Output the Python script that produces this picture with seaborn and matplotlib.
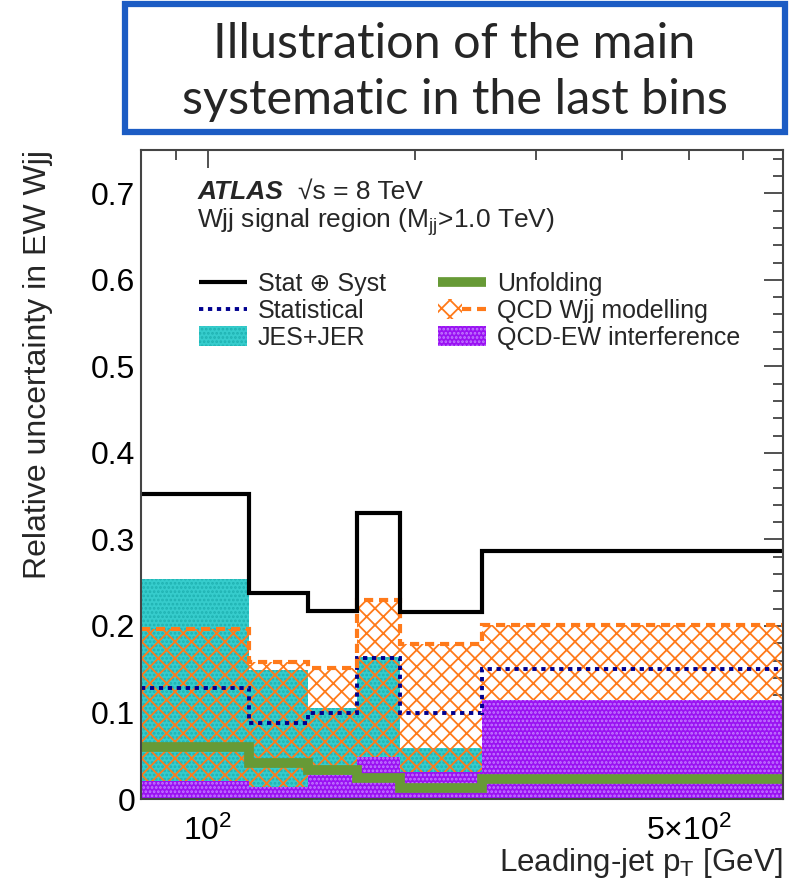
import numpy as np
import pandas as pd
import matplotlib
matplotlib.use("Agg")
import matplotlib.pyplot as plt
import seaborn as sns
from matplotlib.patches import Patch, Rectangle
from matplotlib.lines import Line2D
from matplotlib.legend_handler import HandlerTuple
from matplotlib.ticker import FixedLocator, MultipleLocator, FuncFormatter

# ---- binning and per-bin relative uncertainties ----
bin_edges = [80, 115, 140, 165, 190, 250, 685]
stat_syst = [0.352, 0.238, 0.217, 0.331, 0.216, 0.287]
statistical = [0.128, 0.088, 0.100, 0.163, 0.099, 0.150]
jes_jer = [0.254, 0.149, 0.105, 0.164, 0.059, 0.050]
unfolding = [0.060, 0.042, 0.033, 0.024, 0.013, 0.023]
qcd_wjj_modelling = [0.196, 0.158, 0.152, 0.230, 0.179, 0.201]
qcd_ew_interference = [0.021, 0.014, 0.028, 0.048, 0.031, 0.114]

x_tick_labels = {100: "10$^{2}$", 500: "5\u00d710$^{2}$"}
y_ticks = [0.0, 0.1, 0.2, 0.3, 0.4, 0.5, 0.6, 0.7]

sns.set_theme(style="white")
plt.rcParams["font.family"] = ["Liberation Sans", "DejaVu Sans"]
plt.rcParams["mathtext.fontset"] = "custom"
plt.rcParams["mathtext.rm"] = "Liberation Sans"
plt.rcParams["mathtext.it"] = "Liberation Sans:italic"
plt.rcParams["mathtext.bf"] = "Liberation Sans:bold"
plt.rcParams["hatch.linewidth"] = 1.3

C_BLACK = "#000000"
C_BLUE = "#00008f"
C_CYAN = "#36cccc"
C_CYAN_DOT = "#1fb2b2"
C_GREEN = "#679a36"
C_ORANGE = "#ff7a1a"
C_PURPLE = "#9a12f2"
C_PURPLE_DOT = "#c27cff"

DOTTED = (0, (1.1, 1.2))
DASHED = (0, (2.2, 1.4))
QCD_HATCH = "xx"


def step_frame(values):
    return pd.DataFrame({"pt": bin_edges, "unc": list(values) + [values[-1]]})


fig = plt.figure(figsize=(7.96, 8.89), dpi=100)
ax = fig.add_axes([0.1771, 0.1012, 0.8065, 0.7300])

# filled bands
jes_df = step_frame(jes_jer)
ax.fill_between(jes_df["pt"], 0, jes_df["unc"], step="post", facecolor=C_CYAN,
                edgecolor=C_CYAN_DOT, linewidth=0, hatch="....", zorder=1)
qcd_df = step_frame(qcd_wjj_modelling)
ax.fill_between(qcd_df["pt"], 0, qcd_df["unc"], step="post", facecolor="none",
                edgecolor=C_ORANGE, linewidth=0, hatch=QCD_HATCH, zorder=2)
int_df = step_frame(qcd_ew_interference)
ax.fill_between(int_df["pt"], 0, int_df["unc"], step="post", facecolor=C_PURPLE,
                edgecolor=C_PURPLE_DOT, linewidth=0, hatch="....", zorder=3)

# step lines
sns.lineplot(data=step_frame(unfolding), x="pt", y="unc", drawstyle="steps-post",
             estimator=None, sort=False, color=C_GREEN, linewidth=7.0, ax=ax, zorder=4)
sns.lineplot(data=step_frame(statistical), x="pt", y="unc", drawstyle="steps-post",
             estimator=None, sort=False, color=C_BLUE, linewidth=2.8,
             linestyle=DOTTED, ax=ax, zorder=5)
sns.lineplot(data=qcd_df, x="pt", y="unc", drawstyle="steps-post",
             estimator=None, sort=False, color=C_ORANGE, linewidth=3.0,
             linestyle=DASHED, ax=ax, zorder=6)
sns.lineplot(data=step_frame(stat_syst), x="pt", y="unc", drawstyle="steps-post",
             estimator=None, sort=False, color=C_BLACK, linewidth=3.0, ax=ax, zorder=7)
for ln in ax.get_lines():
    ln.set_solid_joinstyle("miter")
    ln.set_dash_joinstyle("miter")

# axes, scales and ticks
ax.set_xscale("log")
ax.set_xlim(bin_edges[0], bin_edges[-1])
ax.set_ylim(0, 0.75)
ax.xaxis.set_major_locator(FixedLocator([100]))
ax.xaxis.set_major_formatter(FuncFormatter(lambda v, p: x_tick_labels.get(int(round(v)), "")))
ax.xaxis.set_minor_locator(FixedLocator([90, 200, 300, 400, 500, 600]))
ax.xaxis.set_minor_formatter(FuncFormatter(lambda v, p: x_tick_labels.get(int(round(v)), "")))
ax.yaxis.set_major_locator(FixedLocator(y_ticks))
ax.yaxis.set_major_formatter(FuncFormatter(lambda v, p: "0" if abs(v) < 1e-9 else f"{v:.1f}"))
ax.yaxis.set_minor_locator(MultipleLocator(0.02))

ax.tick_params(axis="both", which="both", direction="in", top=True, right=True,
               colors="#333333", labelcolor="black", width=1.2, zorder=10)
ax.tick_params(axis="y", which="major", length=14, labelsize=23, pad=4)
ax.tick_params(axis="y", which="minor", length=7)
ax.tick_params(axis="x", which="major", length=13, labelsize=23, pad=12)
ax.tick_params(axis="x", which="minor", length=7, labelsize=23, pad=12)
for sp in ax.spines.values():
    sp.set_color("#444444")
    sp.set_linewidth(1.5)
    sp.set_zorder(10)

ax.set_xlabel("Leading-jet p$_{\\rm T}$ [GeV]", fontsize=22.5, ha="right")
ax.xaxis.set_label_coords(1.0, -0.073)
ax.set_ylabel("Relative uncertainty in EW Wjj", fontsize=23, ha="right")
ax.yaxis.set_label_coords(-0.137, 1.0)

# labels inside the frame
ax.text(0.088, 0.925, "ATLAS", transform=ax.transAxes, fontsize=19,
        fontweight="bold", fontstyle="italic", va="baseline")
ax.text(0.245, 0.925, "\u221as = 8 TeV", transform=ax.transAxes, fontsize=19,
        va="baseline")
ax.text(0.088, 0.880, "Wjj signal region (M$_{\\rm jj}$>1.0 TeV)", transform=ax.transAxes,
        fontsize=19, va="baseline")

handles = [
    Line2D([], [], color=C_BLACK, lw=3.0, solid_capstyle="butt"),
    Line2D([], [], color=C_BLUE, lw=2.8, linestyle=DOTTED),
    Patch(facecolor=C_CYAN, edgecolor=C_CYAN_DOT, hatch="....", linewidth=0),
    Line2D([], [], color=C_GREEN, lw=7.0, solid_capstyle="butt"),
    (Patch(facecolor="white", edgecolor=C_ORANGE, hatch=QCD_HATCH, linewidth=0),
     Line2D([], [], color=C_ORANGE, lw=3.0, linestyle=DASHED)),
    Patch(facecolor=C_PURPLE, edgecolor=C_PURPLE_DOT, hatch="....", linewidth=0),
]
labels = ["Stat \u2295 Syst", "Statistical", "JES+JER",
          "Unfolding", "QCD Wjj modelling", "QCD-EW interference"]
leg = ax.legend(handles, labels, ncol=2, frameon=False, fontsize=18,
                loc="upper left", bbox_to_anchor=(0.075, 0.828),
                handlelength=1.9, handleheight=0.8, handletextpad=0.45,
                columnspacing=2.1, labelspacing=0.12, borderaxespad=0,
                handler_map={tuple: HandlerTuple(ndivide=None, pad=0)})

# heading box above the plot
fig.patches.append(Rectangle((0.1570, 0.8510), 0.8290, 0.1440, transform=fig.transFigure,
                             facecolor="white", edgecolor="#1c5cc4", linewidth=4.5))
fig.text(0.571, 0.950, "Illustration of the main", ha="center", va="center",
         fontsize=35, family=["Lato", "DejaVu Sans"])
fig.text(0.571, 0.888, "systematic in the last bins", ha="center", va="center",
         fontsize=35, family=["Lato", "DejaVu Sans"])

fig.savefig("out.png", dpi=100)
